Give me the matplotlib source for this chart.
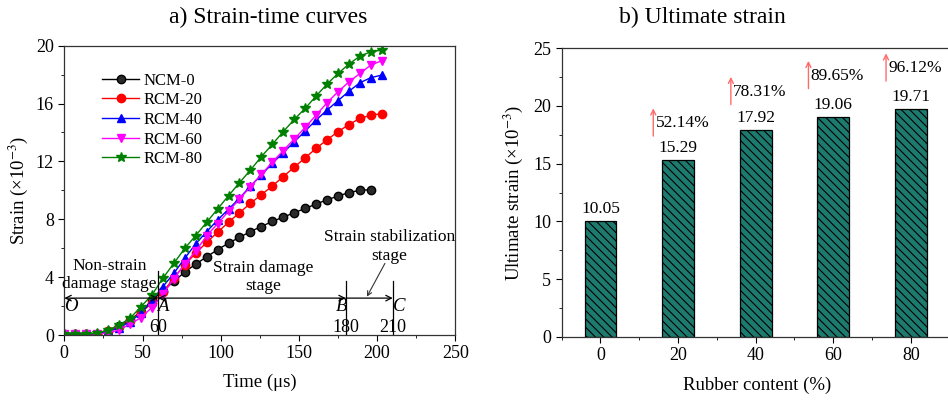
import matplotlib
matplotlib.use("Agg")
import matplotlib.pyplot as plt
from matplotlib.ticker import MultipleLocator

plt.rcParams['font.family'] = ['Liberation Serif', 'DejaVu Serif']
plt.rcParams['mathtext.fontset'] = 'stix'
plt.rcParams['hatch.linewidth'] = 0.8

# ---------------- data: panel a ----------------
time_us = [0, 7, 14, 21, 28, 35, 42, 49, 56, 63, 70, 77, 84, 91, 98, 105, 112,
           119, 126, 133, 140, 147, 154, 161, 168, 175, 182, 189, 196, 203]
ncm0 = [0.05, 0.05, 0.05, 0.1, 0.3, 0.6, 1.05, 1.6, 2.4, 3.05, 3.7, 4.35, 4.9,
        5.4, 5.9, 6.35, 6.75, 7.15, 7.5, 7.85, 8.15, 8.45, 8.75, 9.05, 9.35,
        9.6, 9.85, 10.0, 10.05]
rcm20 = [0.05, 0.05, 0.05, 0.1, 0.3, 0.55, 1.0, 1.55, 2.2, 2.95, 3.95, 4.85,
         5.65, 6.4, 7.1, 7.8, 8.45, 9.1, 9.7, 10.3, 10.95, 11.6, 12.25, 12.9,
         13.5, 14.05, 14.55, 14.97, 15.2, 15.3]
rcm40 = [0.05, 0.05, 0.05, 0.1, 0.25, 0.5, 0.92, 1.5, 2.37, 3.34, 4.26, 5.3,
         6.3, 7.14, 7.95, 8.7, 9.45, 10.3, 11.06, 11.87, 12.6, 13.36, 14.1,
         14.86, 15.55, 16.2, 16.85, 17.44, 17.79, 17.97]
rcm60 = [0.05, 0.05, 0.05, 0.08, 0.15, 0.35, 0.75, 1.2, 1.9, 2.8, 3.9, 4.9,
         5.8, 6.85, 7.7, 8.55, 9.4, 10.25, 11.1, 11.95, 12.75, 13.55, 14.35,
         15.2, 16.06, 16.82, 17.5, 18.08, 18.66, 18.96]
rcm80 = [0.05, 0.05, 0.05, 0.12, 0.35, 0.69, 1.15, 1.96, 2.76, 3.92, 4.95,
         5.99, 6.87, 7.79, 8.71, 9.63, 10.53, 11.4, 12.33, 13.18, 14.06, 14.9,
         15.67, 16.52, 17.35, 18.08, 18.73, 19.28, 19.58, 19.7]
series_labels = ['NCM-0', 'RCM-20', 'RCM-40', 'RCM-60', 'RCM-80']
stage_times = [0, 60, 180, 210]
stage_points = ['O', 'A', 'B', 'C']

# ---------------- data: panel b ----------------
rubber_content = [0, 20, 40, 60, 80]
ultimate_strain = [10.05, 15.29, 17.92, 19.06, 19.71]
increase_pct = ['52.14%', '78.31%', '89.65%', '96.12%']

fig = plt.figure(figsize=(9.48, 4.0), dpi=100)
W, H = 948.0, 400.0

# ---------------- panel a ----------------
ax1 = fig.add_axes([64.3 / W, (H - 335) / H, (455.3 - 64.3) / W, (335 - 45.7) / H])
styles = [
    dict(color='black', marker='o', mfc='#2a2a2a', mec='black'),
    dict(color='red', marker='o', mfc='red', mec='red'),
    dict(color='blue', marker='^', mfc='blue', mec='blue'),
    dict(color='magenta', marker='v', mfc='magenta', mec='magenta'),
    dict(color='green', marker='*', mfc='green', mec='green'),
]
all_series = [ncm0, rcm20, rcm40, rcm60, rcm80]
for s, lab, st in zip(all_series, series_labels, styles):
    ax1.plot(time_us[:len(s)], s, lw=1.0, ms=6 if st['marker'] != '*' else 7.5,
             label=lab, **st)

ax1.set_xlim(0, 250)
ax1.set_ylim(0, 20)
ax1.xaxis.set_major_locator(MultipleLocator(50))
ax1.xaxis.set_minor_locator(MultipleLocator(25))
ax1.yaxis.set_major_locator(MultipleLocator(4))
ax1.yaxis.set_minor_locator(MultipleLocator(2))
ax1.tick_params(which='both', direction='out', top=False, right=False, labelsize=13)
ax1.tick_params(which='major', length=4)
ax1.tick_params(which='minor', length=2.5)
ax1.set_xlabel('Time (μs)', fontsize=13.5, labelpad=8)
ax1.set_ylabel('Strain (×10$^{-3}$)', fontsize=13.5, labelpad=4)
fig.text(268 / W, 1 - 17 / H, 'a) Strain-time curves', fontsize=17,
         ha='center', va='center')

leg = ax1.legend(loc='upper left', bbox_to_anchor=(0.08, 0.93), frameon=False,
                 fontsize=12, handlelength=2.2, handletextpad=0.3,
                 labelspacing=0.22, borderaxespad=0)

# stage annotations
arrow_y = 2.55
for t in stage_times[1:]:
    top = 4.45 if t == 60 else 3.75
    ax1.plot([t, t], [0, top], color='black', lw=0.9)
seg_pairs = list(zip(stage_times[:-1], stage_times[1:]))
for i, (a, b) in enumerate(seg_pairs):
    style = '<->' if i < 2 else '->'
    ax1.annotate('', xy=(b, arrow_y), xytext=(a, arrow_y),
                 arrowprops=dict(arrowstyle=style, color='black', lw=0.9,
                                 shrinkA=0, shrinkB=0, mutation_scale=10))
label_x = {'O': 4, 'A': 63, 'B': 177, 'C': 214}
for p in stage_points:
    ax1.text(label_x[p], 1.95, p, fontsize=13.5, style='italic', ha='center',
             va='center')
for t in stage_times[1:]:
    ax1.text(t, 0.5, str(t), fontsize=13, ha='center', va='center')
ax1.text(29, 4.15, 'Non-strain\ndamage stage', fontsize=12.5, ha='center',
         va='center', linespacing=1.2)
ax1.text(127, 4.0, 'Strain damage\nstage', fontsize=12.5, ha='center',
         va='center', linespacing=1.2)
ax1.text(208, 6.1, 'Strain stabilization\nstage', fontsize=12.5, ha='center',
         va='center', linespacing=1.25)
ax1.annotate('', xy=(193.5, 2.65), xytext=(205, 4.95),
             arrowprops=dict(arrowstyle='->', color='#333333', lw=0.8,
                             shrinkA=0, shrinkB=0, mutation_scale=8))

# ---------------- panel b ----------------
ax2 = fig.add_axes([561.7 / W, (H - 336.7) / H, (952 - 561.7) / W,
                    (336.7 - 48.3) / H])
ax2.bar(rubber_content, ultimate_strain, width=8.2, color='#1c7a6e',
        edgecolor='black', linewidth=0.9, hatch='\\\\\\\\')
for x, v in zip(rubber_content, ultimate_strain):
    ax2.text(x, v + 0.35, f'{v:.2f}', ha='center', va='bottom', fontsize=12.5)

arrow_x_off = -6.4
arrow_base_off = [2.1, 2.2, 2.45, 2.45]
for x, v, pct, off in zip(rubber_content[1:], ultimate_strain[1:], increase_pct,
                          arrow_base_off):
    y0 = v + off
    ax2.annotate('', xy=(x + arrow_x_off, y0 + 2.4), xytext=(x + arrow_x_off, y0),
                 arrowprops=dict(arrowstyle='->', color='#ff6a6a', lw=1.0,
                                 shrinkA=0, shrinkB=0, mutation_scale=9))
    ax2.text(x + arrow_x_off + 0.6, y0 + 1.1, pct, ha='left', va='center',
             fontsize=12.5)

ax2.set_xlim(-10, 90 * (952 - 561.7) / (949.5 - 561.7) + 0.0 if False else 90.6)
ax2.set_ylim(0, 25)
ax2.set_xticks(rubber_content)
ax2.xaxis.set_minor_locator(MultipleLocator(10))
ax2.yaxis.set_major_locator(MultipleLocator(5))
ax2.yaxis.set_minor_locator(MultipleLocator(2.5))
ax2.tick_params(which='both', direction='out', top=False, right=False, labelsize=13)
ax2.tick_params(which='major', length=4)
ax2.tick_params(which='minor', length=2.5)
ax2.set_xlabel('Rubber content (%)', fontsize=13.5, labelpad=9)
ax2.set_ylabel('Ultimate strain (×10$^{-3}$)', fontsize=13.5, labelpad=6)
fig.text(702 / W, 1 - 17 / H, 'b) Ultimate strain', fontsize=17, ha='center',
         va='center')

for ax in (ax1, ax2):
    for sp in ax.spines.values():
        sp.set_linewidth(0.9)
        sp.set_color('#333333')

fig.savefig('out.png', dpi=100)
